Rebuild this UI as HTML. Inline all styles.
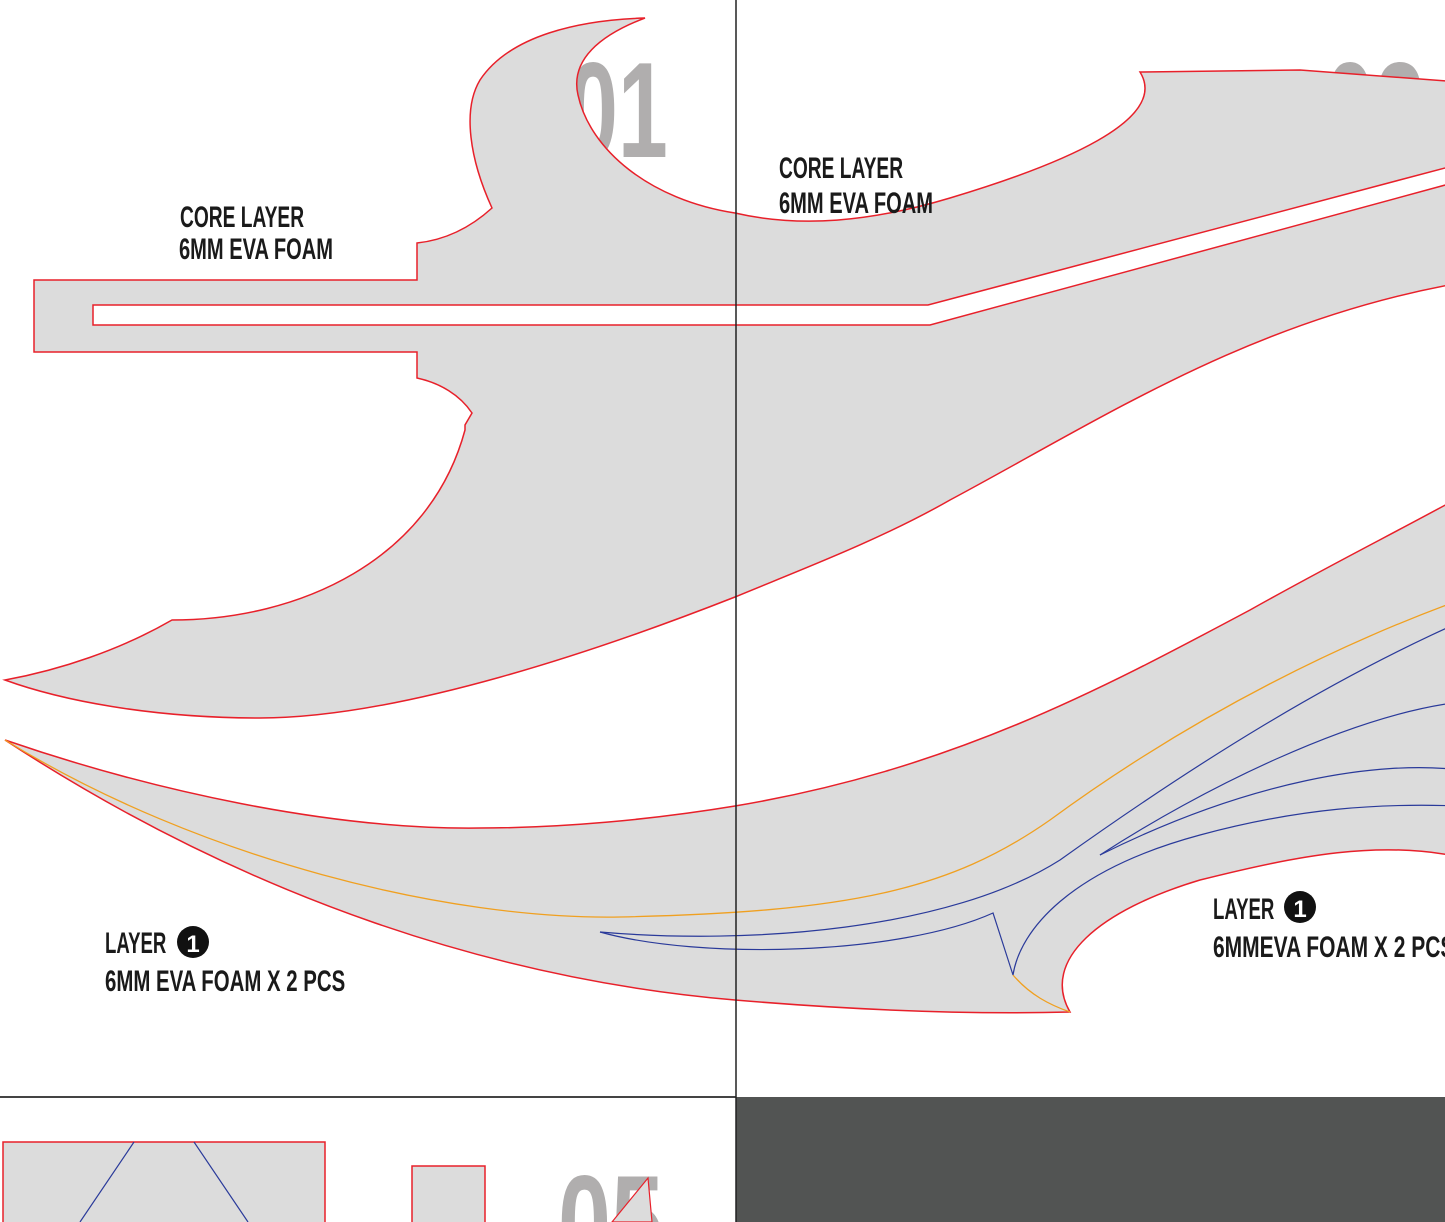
<!DOCTYPE html>
<html><head><meta charset="utf-8"><style>
html,body{margin:0;padding:0;background:#fff;width:1445px;height:1222px;overflow:hidden;}
svg{display:block;overflow:hidden;}
.lbl{font-family:"Liberation Sans Narrow","Liberation Sans",sans-serif;font-weight:bold;fill:#1a1a1a;}
.num{font-family:"Liberation Sans Narrow","Liberation Sans",sans-serif;font-weight:bold;fill:#b0aeae;}
</style></head><body>
<svg width="1445" height="1222" viewBox="0 0 1445 1222" xmlns="http://www.w3.org/2000/svg">
<rect width="1445" height="1222" fill="#fff"/>
<text class="num" font-size="136" transform="translate(568,157) scale(0.66,1)">01</text>
<text class="num" font-size="136" transform="translate(1325,157) scale(0.66,1)">02</text>
<!-- core layer shape -->
<path fill="#dcdcdc" fill-rule="evenodd" stroke="#e8202a" stroke-width="1.5" d="
M34,280 L417,280 L417,243 C445,240 470,228 492,208 C470,160 462,110 480,80 C510,35 580,20 645,18
C600,35 570,60 578,95 C590,150 650,200 735,213 C800,228 870,222 950,198 C1060,165 1170,120 1140,72
L1300,70 L1460,82 L1460,283 C1250,320 1100,420 950,500 C880,540 800,570 735,597 C600,650 400,718 260,718 C150,718 60,700 5,680
C60,670 120,650 172,620 C300,620 430,560 465,430 L465,425 L472,413 C460,395 440,383 417,378 L417,352 L34,352 Z
M93,305 L928,305 L1460,164 L1460,181 L930,325 L93,325 Z"/>
<!-- layer 1 shape -->
<path fill="#dcdcdc" stroke="#e8202a" stroke-width="1.5" d="
M5,740 C150,790 330,830 480,828 C560,828 650,820 735,806 C950,770 1100,690 1250,610 C1330,565 1400,530 1460,497
L1460,857 C1380,840 1300,855 1200,880 C1100,910 1040,960 1070,1012
C950,1015 830,1008 735,1000 C500,980 250,900 5,740 Z"/>
<path fill="none" stroke="#f0a020" stroke-width="1.3" d="M5,740 C200,860 450,920 620,917 C850,912 950,890 1050,820 C1200,710 1350,640 1460,600 M1013,975 C1030,995 1050,1005 1070,1012"/>
<g fill="none" stroke="#2a3a9a" stroke-width="1.2">
<path d="M600,932 C750,945 950,930 1060,860 C1200,760 1330,680 1460,622"/>
<path d="M600,932 C700,960 900,955 993,913 L1013,975 C1020,930 1070,870 1200,835 C1300,808 1380,803 1460,806"/>
<path d="M1100,855 C1200,790 1350,715 1460,702"/>
<path d="M1100,855 C1250,780 1380,760 1460,770"/>
</g>
<!-- labels -->
<g class="lbl" font-size="30">
<text transform="translate(180,227) scale(0.64,1)">CORE LAYER</text>
<text transform="translate(179,259) scale(0.67,1)">6MM EVA FOAM</text>
<text transform="translate(779,178) scale(0.64,1)">CORE LAYER</text>
<text transform="translate(779,213) scale(0.67,1)">6MM EVA FOAM</text>
<text transform="translate(105,953) scale(0.62,1)">LAYER</text>
<text transform="translate(105,991) scale(0.68,1)">6MM EVA FOAM X 2 PCS</text>
<text transform="translate(1213,919) scale(0.62,1)">LAYER</text>
<text transform="translate(1213,957) scale(0.7,1)">6MMEVA FOAM X 2 PCS</text>
</g>
<circle cx="193" cy="942" r="16" fill="#111"/>
<text x="193" y="952" font-family="Liberation Sans" font-weight="bold" font-size="24" fill="#fff" text-anchor="middle">1</text>
<circle cx="1300" cy="907" r="16" fill="#111"/>
<text x="1300" y="917" font-family="Liberation Sans" font-weight="bold" font-size="24" fill="#fff" text-anchor="middle">1</text>
<!-- dividers -->
<rect x="736" y="1097" width="709" height="125" fill="#525453"/>
<line x1="0" y1="1097" x2="736" y2="1097" stroke="#444" stroke-width="2"/>
<line x1="736" y1="0" x2="736" y2="1222" stroke="#222" stroke-width="1.5"/>
<!-- bottom section -->
<text class="num" font-size="136" transform="translate(558,1270) scale(0.7,1)">05</text>
<rect x="3" y="1142" width="322" height="90" fill="#dcdcdc" stroke="#e8202a" stroke-width="1.5"/>
<path d="M134,1142 L80,1222 M194,1142 L248,1222" stroke="#2a3a9a" stroke-width="1.2" fill="none"/>
<rect x="412" y="1166" width="73" height="70" fill="#dcdcdc" stroke="#e8202a" stroke-width="1.5"/>
<path d="M648,1178 L612,1222 L652,1222 Z" fill="#dcdcdc" stroke="#e8202a" stroke-width="1.2"/>
</svg>
</body></html>
